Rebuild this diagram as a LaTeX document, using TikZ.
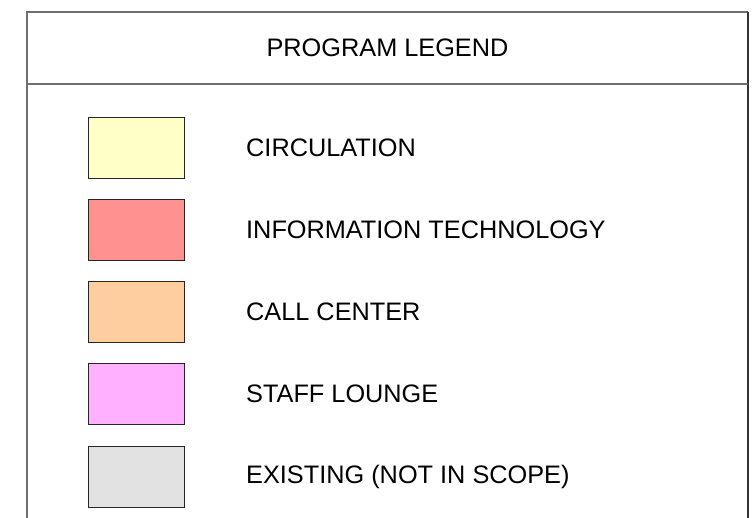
\documentclass[tikz,border=0pt]{standalone}
\usepackage{fontspec}
\setmainfont{Liberation Sans}
\definecolor{circyellow}{RGB}{255,255,200}
\definecolor{itred}{RGB}{255,145,145}
\definecolor{callorange}{RGB}{255,206,158}
\definecolor{loungepink}{RGB}{255,176,255}
\definecolor{existgray}{RGB}{226,226,226}
\definecolor{framegray}{RGB}{110,110,110}
\tikzset{swatch/.style={draw=black!85, line width=0.9pt},
  label/.style={anchor=west, inner sep=0pt, font=\fontsize{25.3}{30}\selectfont}}
\begin{document}
\begin{tikzpicture}[x=1pt,y=-1pt]
\useasboundingbox (0,0) rectangle (752,518);
\draw [draw=framegray, line width=1.5pt] (27,518)--(27,12)--(748,12);
\draw [draw=black!80, line width=1.5pt] (748,12)--(748,518);
\draw [draw=framegray, line width=1.5pt] (27,84)--(748,84);
\node [label, anchor=center] (title) at (387.5,48) {PROGRAM LEGEND};
\draw [swatch, fill=circyellow] (88,117) rectangle (184,178);
\draw [swatch, fill=itred] (88,199.25) rectangle (184,260.25);
\draw [swatch, fill=callorange] (88,281.5) rectangle (184,342.5);
\draw [swatch, fill=loungepink] (88,363.75) rectangle (184,424.75);
\draw [swatch, fill=existgray] (88,446) rectangle (184,507);
\node [label] (circ) at (246,147.5) {CIRCULATION};
\node [label] (it) at (246,229.75) {INFORMATION TECHNOLOGY};
\node [label] (call) at (246,312) {CALL CENTER};
\node [label] (lounge) at (246,394.25) {STAFF LOUNGE};
\node [label] (exist) at (246,476.5) {EXISTING (NOT IN SCOPE)};
\end{tikzpicture}
\end{document}
